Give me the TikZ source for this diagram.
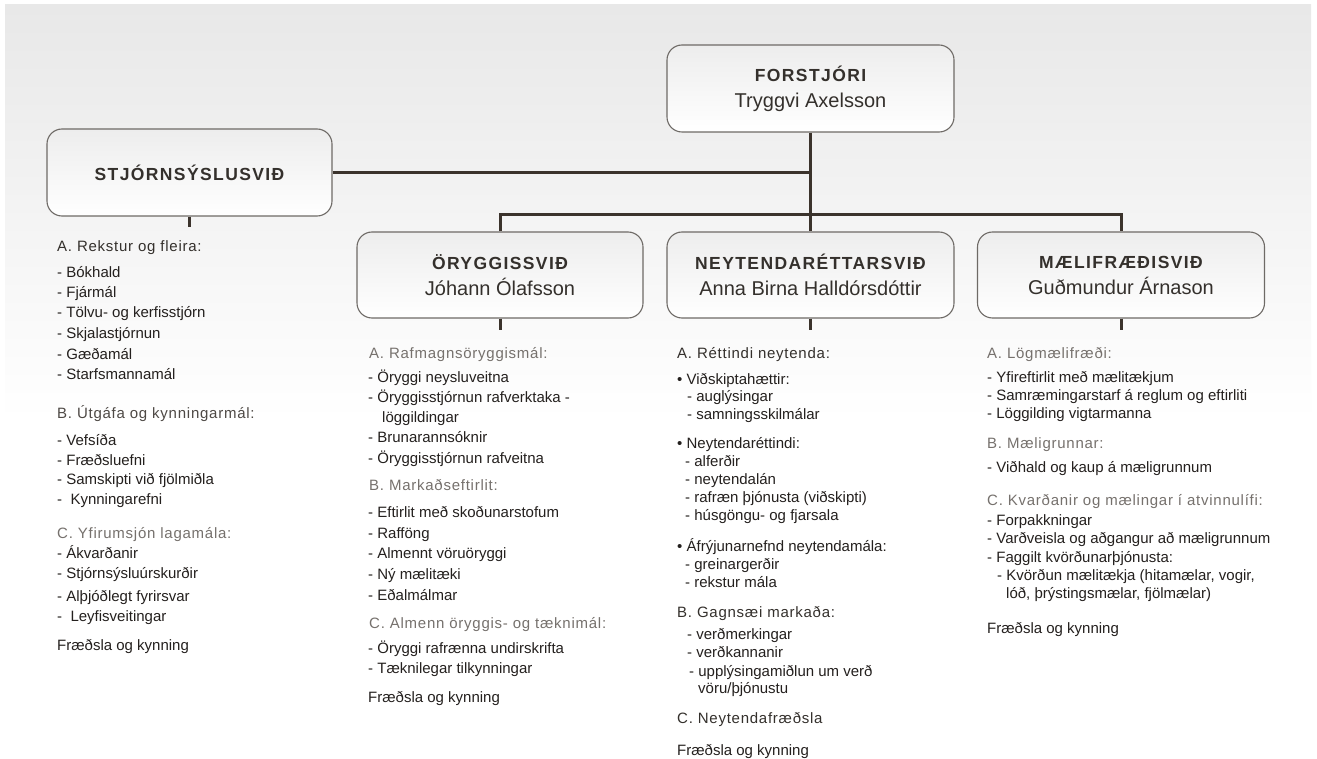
\documentclass[tikz,border=0pt]{standalone}
\usepackage{fontspec}
\setmainfont{Liberation Sans}
\newfontfamily\ttlfont[LetterSpace=8]{Liberation Sans}
\newfontfamily\hdfont[LetterSpace=5]{Liberation Sans}
\definecolor{lineC}{HTML}{3B332C}
\definecolor{boxB}{HTML}{6E6A66}
\definecolor{txt}{HTML}{24201E}
\definecolor{hdark}{HTML}{34302C}
\definecolor{hmid}{HTML}{4E4945}
\definecolor{hgray}{HTML}{76716D}
\definecolor{bgG}{HTML}{E8E8E8}
\definecolor{boxTop}{HTML}{EDEDED}
\tikzset{
  orgbox/.style={draw=boxB, line width=1.1pt, rounded corners=15pt,
    minimum width=287pt, minimum height=87pt, top color=boxTop, bottom color=white,
    align=center, text=hdark, inner sep=0pt, font=\fontsize{20}{26}\selectfont},
  conn/.style={draw=lineC, line width=3pt},
  itm/.style={anchor=base west, inner sep=0pt, yshift=-5pt,
    font=\fontsize{15}{18}\selectfont, text=txt},
  hd/.style={itm, font=\hdfont\fontsize{15}{18}\selectfont, text=hdark},
  hm/.style={hd, text=hmid},
  hg/.style={hd, text=hgray}
}
\newcommand\ttl[1]{{\ttlfont\bfseries\fontsize{17.5}{26}\selectfont #1}}
\begin{document}
\begin{tikzpicture}[x=1pt,y=-1pt]
\useasboundingbox (0,0) rectangle (1317,759);
\fill[white] (0,0) rectangle (1317,759);
\shade[top color=bgG, bottom color=white] (5,5) rectangle (1311,420);

% boxes
\node[orgbox] (forst) at (810.5,88.5) {\ttl{FORSTJÓRI}\\Tryggvi Axelsson};
\node[orgbox, minimum width=285pt] (stjorn) at (189.5,172.5) {\ttl{STJÓRNSÝSLUSVIÐ}};
\node[orgbox, minimum width=286pt, minimum height=86pt] (oryggi) at (500,275) {\ttl{ÖRYGGISSVIÐ}\\Jóhann Ólafsson};
\node[orgbox, minimum height=86pt] (neyt) at (810.5,275) {\ttl{NEYTENDARÉTTARSVIÐ}\\Anna Birna Halldórsdóttir};
\node[orgbox, minimum height=86pt] (maeli) at (1121,275) {\ttl{MÆLIFRÆÐISVIÐ}\\Guðmundur Árnason};

% connectors
\coordinate (bus) at (810.5,215);
\coordinate (s1) at (189.5,227);
\coordinate (s2) at (500,330);
\coordinate (s3) at (810.5,330);
\coordinate (s4) at (1121,330);
\draw[conn] (forst.south) -- (neyt.north);
\draw[conn] (stjorn.east) -- (stjorn.east -| forst.south);
\draw[conn] (oryggi.north) -- (oryggi.north |- bus) -- (maeli.north |- bus) -- (maeli.north);
\draw[conn] (stjorn.south) -- (s1);
\draw[conn] (oryggi.south) -- (s2);
\draw[conn] (neyt.south) -- (s3);
\draw[conn] (maeli.south) -- (s4);

% column 1
\node[hd] (c1h1) at (57,247) {A. Rekstur og fleira:};
\node[itm] (c1i1) at (57,273) {- Bókhald};
\node[itm] (c1i2) at (57,293) {- Fjármál};
\node[itm] (c1i3) at (57,313) {- Tölvu- og kerfisstjórn};
\node[itm] (c1i4) at (57,333) {- Skjalastjórnun};
\node[itm] (c1i5) at (57,354) {- Gæðamál};
\node[itm] (c1i6) at (57,374) {- Starfsmannamál};
\node[hm] (c1h2) at (57,413) {B. Útgáfa og kynningarmál:};
\node[itm] (c1i7) at (57,440) {- Vefsíða};
\node[itm] (c1i8) at (57,460) {- Fræðsluefni};
\node[itm] (c1i9) at (57,479) {- Samskipti við fjölmiðla};
\node[itm] (c1i10) at (57,499) {-\ \ Kynningarefni};
\node[hg] (c1h3) at (57,533) {C. Yfirumsjón lagamála:};
\node[itm] (c1i11) at (57,553) {- Ákvarðanir};
\node[itm] (c1i12) at (57,573) {- Stjórnsýsluúrskurðir};
\node[itm] (c1i13) at (57,596) {- Alþjóðlegt fyrirsvar};
\node[itm] (c1i14) at (57,616) {-\ \ Leyfisveitingar};
\node[itm] (c1f) at (57,645) {Fræðsla og kynning};

% column 2
\node[hg] (c2h1) at (369,353) {A. Rafmagnsöryggismál:};
\node[itm] (c2i1) at (368,377) {- Öryggi neysluveitna};
\node[itm] (c2i2) at (368,397) {- Öryggisstjórnun rafverktaka -};
\node[itm] (c2i2b) at (382,417) {löggildingar};
\node[itm] (c2i3) at (368,437) {- Brunarannsóknir};
\node[itm] (c2i4) at (368,458) {- Öryggisstjórnun rafveitna};
\node[hg] (c2h2) at (369,485) {B. Markaðseftirlit:};
\node[itm] (c2i5) at (368,512) {- Eftirlit með skoðunarstofum};
\node[itm] (c2i6) at (368,533) {- Rafföng};
\node[itm] (c2i7) at (368,553) {- Almennt vöruöryggi};
\node[itm] (c2i8) at (368,574) {- Ný mælitæki};
\node[itm] (c2i9) at (368,595) {- Eðalmálmar};
\node[hg] (c2h3) at (369,623) {C. Almenn öryggis- og tæknimál:};
\node[itm] (c2i10) at (368,648) {- Öryggi rafrænna undirskrifta};
\node[itm] (c2i11) at (368,668) {- Tæknilegar tilkynningar};
\node[itm] (c2f) at (368,697) {Fræðsla og kynning};

% column 3
\node[hd] (c3h1) at (677,353) {A. Réttindi neytenda:};
\node[itm] (c3b1) at (677,379) {• Viðskiptahættir:};
\node[itm] (c3i1) at (687,396) {- auglýsingar};
\node[itm] (c3i2) at (687,414) {- samningsskilmálar};
\node[itm] (c3b2) at (677,443) {• Neytendaréttindi:};
\node[itm] (c3i3) at (685,461) {- alferðir};
\node[itm] (c3i4) at (685,479) {- neytendalán};
\node[itm] (c3i5) at (685,497) {- rafræn þjónusta (viðskipti)};
\node[itm] (c3i6) at (685,515) {- húsgöngu- og fjarsala};
\node[itm] (c3b3) at (677,546) {• Áfrýjunarnefnd neytendamála:};
\node[itm] (c3i7) at (685,564) {- greinargerðir};
\node[itm] (c3i8) at (685,582) {- rekstur mála};
\node[hd] (c3h2) at (677,612) {B. Gagnsæi markaða:};
\node[itm] (c3i9) at (687,634) {- verðmerkingar};
\node[itm] (c3i10) at (687,652) {- verðkannanir};
\node[itm] (c3i11) at (689,671) {- upplýsingamiðlun um verð};
\node[itm] (c3i11b) at (698,688) {vöru/þjónustu};
\node[hd] (c3h3) at (677,718) {C. Neytendafræðsla};
\node[itm] (c3f) at (677,750) {Fræðsla og kynning};

% column 4
\node[hg] (c4h1) at (987,353) {A. Lögmælifræði:};
\node[itm] (c4i1) at (987,377) {- Yfireftirlit með mælitækjum};
\node[itm] (c4i2) at (987,395) {- Samræmingarstarf á reglum og eftirliti};
\node[itm] (c4i3) at (987,413) {- Löggilding vigtarmanna};
\node[hg] (c4h2) at (987,443) {B. Mæligrunnar:};
\node[itm] (c4i4) at (987,467) {- Viðhald og kaup á mæligrunnum};
\node[hg] (c4h3) at (987,500) {C. Kvarðanir og mælingar í atvinnulífi:};
\node[itm] (c4i5) at (987,520) {- Forpakkningar};
\node[itm] (c4i6) at (987,538) {- Varðveisla og aðgangur að mæligrunnum};
\node[itm] (c4i7) at (987,557) {- Faggilt kvörðunarþjónusta:};
\node[itm] (c4i8) at (997,575) {- Kvörðun mælitækja (hitamælar, vogir,};
\node[itm] (c4i8b) at (1006,593) {lóð, þrýstingsmælar, fjölmælar)};
\node[itm] (c4f) at (987,628) {Fræðsla og kynning};
\end{tikzpicture}
\end{document}
